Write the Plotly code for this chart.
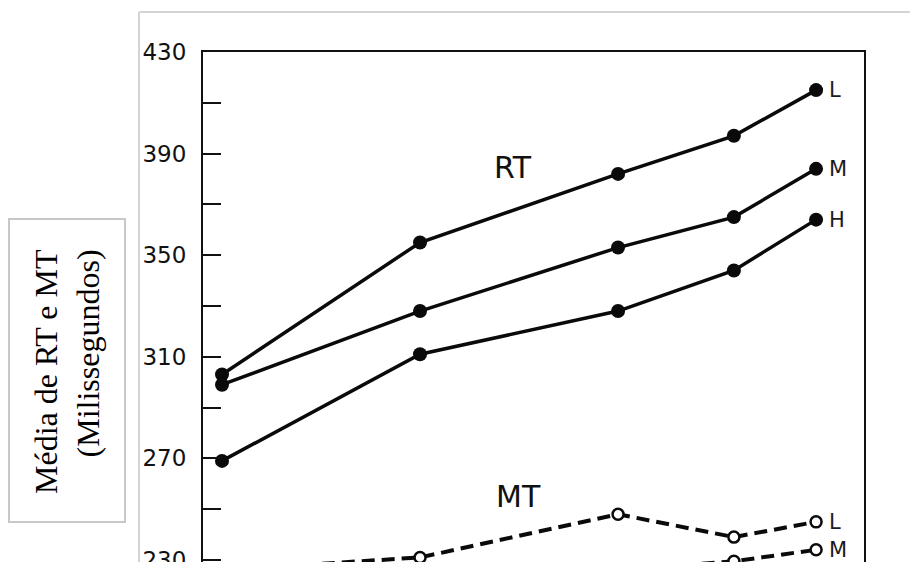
import plotly.graph_objects as go

# x positions: information (bits) for 1, 2, 4, 6, 8 alternatives
bits = [0, 1, 2, 2.585, 3]

rt_L = [303, 355, 382, 397, 415]
rt_M = [299, 328, 353, 365, 384]
rt_H = [269, 311, 328, 344, 364]

mt_L = [226, 231, 248, 239, 245]
mt_M = [222, 225, 226, 229.5, 234]

y_ticks = [230, 270, 310, 350, 390, 430]
y_tick_text = ["230", "270", "310", "350", "390", "430"]

W, H = 910, 562
L_M, R_M, T_M, B_M = 203, 46, 52, 0
PW, PH = W - L_M - R_M, H - T_M - B_M


def px(x):
    return (x - L_M) / PW


def py(y):
    return (H - B_M - y) / PH


fig = go.Figure()

for vals in (rt_L, rt_M, rt_H):
    fig.add_trace(go.Scatter(
        x=bits, y=vals, mode="lines+markers",
        line=dict(color="#0a0a0a", width=3.5),
        marker=dict(size=14, color="#0a0a0a"),
        showlegend=False, cliponaxis=True))

for vals in (mt_L, mt_M):
    fig.add_trace(go.Scatter(
        x=bits, y=vals, mode="lines+markers",
        line=dict(color="#0a0a0a", width=4, dash="13px,7px"),
        marker=dict(size=11, color="white", line=dict(color="#0a0a0a", width=2.5)),
        showlegend=False, cliponaxis=True))

annos = []
lab_font = dict(family="DejaVu Sans", size=21, color="#1a1a1a")
for vals, t in ((rt_L, "L"), (rt_M, "M"), (rt_H, "H"), (mt_L, "L"), (mt_M, "M")):
    annos.append(dict(x=bits[-1], y=vals[-1], xref="x", yref="y", text=t,
                      showarrow=False, xanchor="left", yanchor="middle",
                      xshift=11, font=lab_font))

big_font = dict(family="DejaVu Sans", size=30, color="#111")
annos.append(dict(x=1.47, y=384.5, xref="x", yref="y", text="RT",
                  showarrow=False, font=big_font))
annos.append(dict(x=1.495, y=255, xref="x", yref="y", text="MT",
                  showarrow=False, font=big_font))

annos.append(dict(x=px(67), y=py(372), xref="paper", yref="paper",
                  text="Média de RT e MT<br>(Milissegundos)",
                  textangle=-90, align="right", showarrow=False,
                  xanchor="center", yanchor="middle",
                  font=dict(family="Liberation Serif", size=32, color="black")))

shapes = [
    dict(type="rect", xref="paper", yref="paper",
         x0=px(9), x1=px(125), y0=py(522), y1=py(219),
         line=dict(color="#c8c8c8", width=2)),
    dict(type="line", xref="paper", yref="paper",
         x0=px(139), x1=px(139), y0=py(12), y1=py(580),
         line=dict(color="#d4d4d4", width=2)),
    dict(type="line", xref="paper", yref="paper",
         x0=px(139), x1=px(930), y0=py(12), y1=py(12),
         line=dict(color="#d4d4d4", width=2)),
]

fig.update_layout(
    width=W, height=H,
    margin=dict(l=L_M, r=R_M, t=T_M, b=B_M, pad=0, autoexpand=False),
    paper_bgcolor="white", plot_bgcolor="white",
    showlegend=False,
    annotations=annos, shapes=shapes,
    xaxis=dict(range=[-0.096, 3.242], side="top", showline=True,
               linecolor="#111", linewidth=2, showgrid=False, automargin=False,
               zeroline=False, showticklabels=False, ticks=""),
    yaxis=dict(range=[229.2, 430], showline=True, mirror=True,
               linecolor="#111", linewidth=2, showgrid=False, automargin=False,
               zeroline=False, tickmode="array", tickvals=y_ticks,
               ticktext=y_tick_text, ticks="inside", ticklen=18,
               tickwidth=2, tickcolor="#111", ticklabelstandoff=10,
               ticklabeloverflow="allow",
               tickfont=dict(family="DejaVu Sans", size=23, color="#111"),
               minor=dict(tickmode="array", tickvals=[250, 290, 330, 370, 410],
                          ticks="inside", ticklen=18, tickwidth=2,
                          tickcolor="#111", showgrid=False)),
)

fig.write_html("out.html")
